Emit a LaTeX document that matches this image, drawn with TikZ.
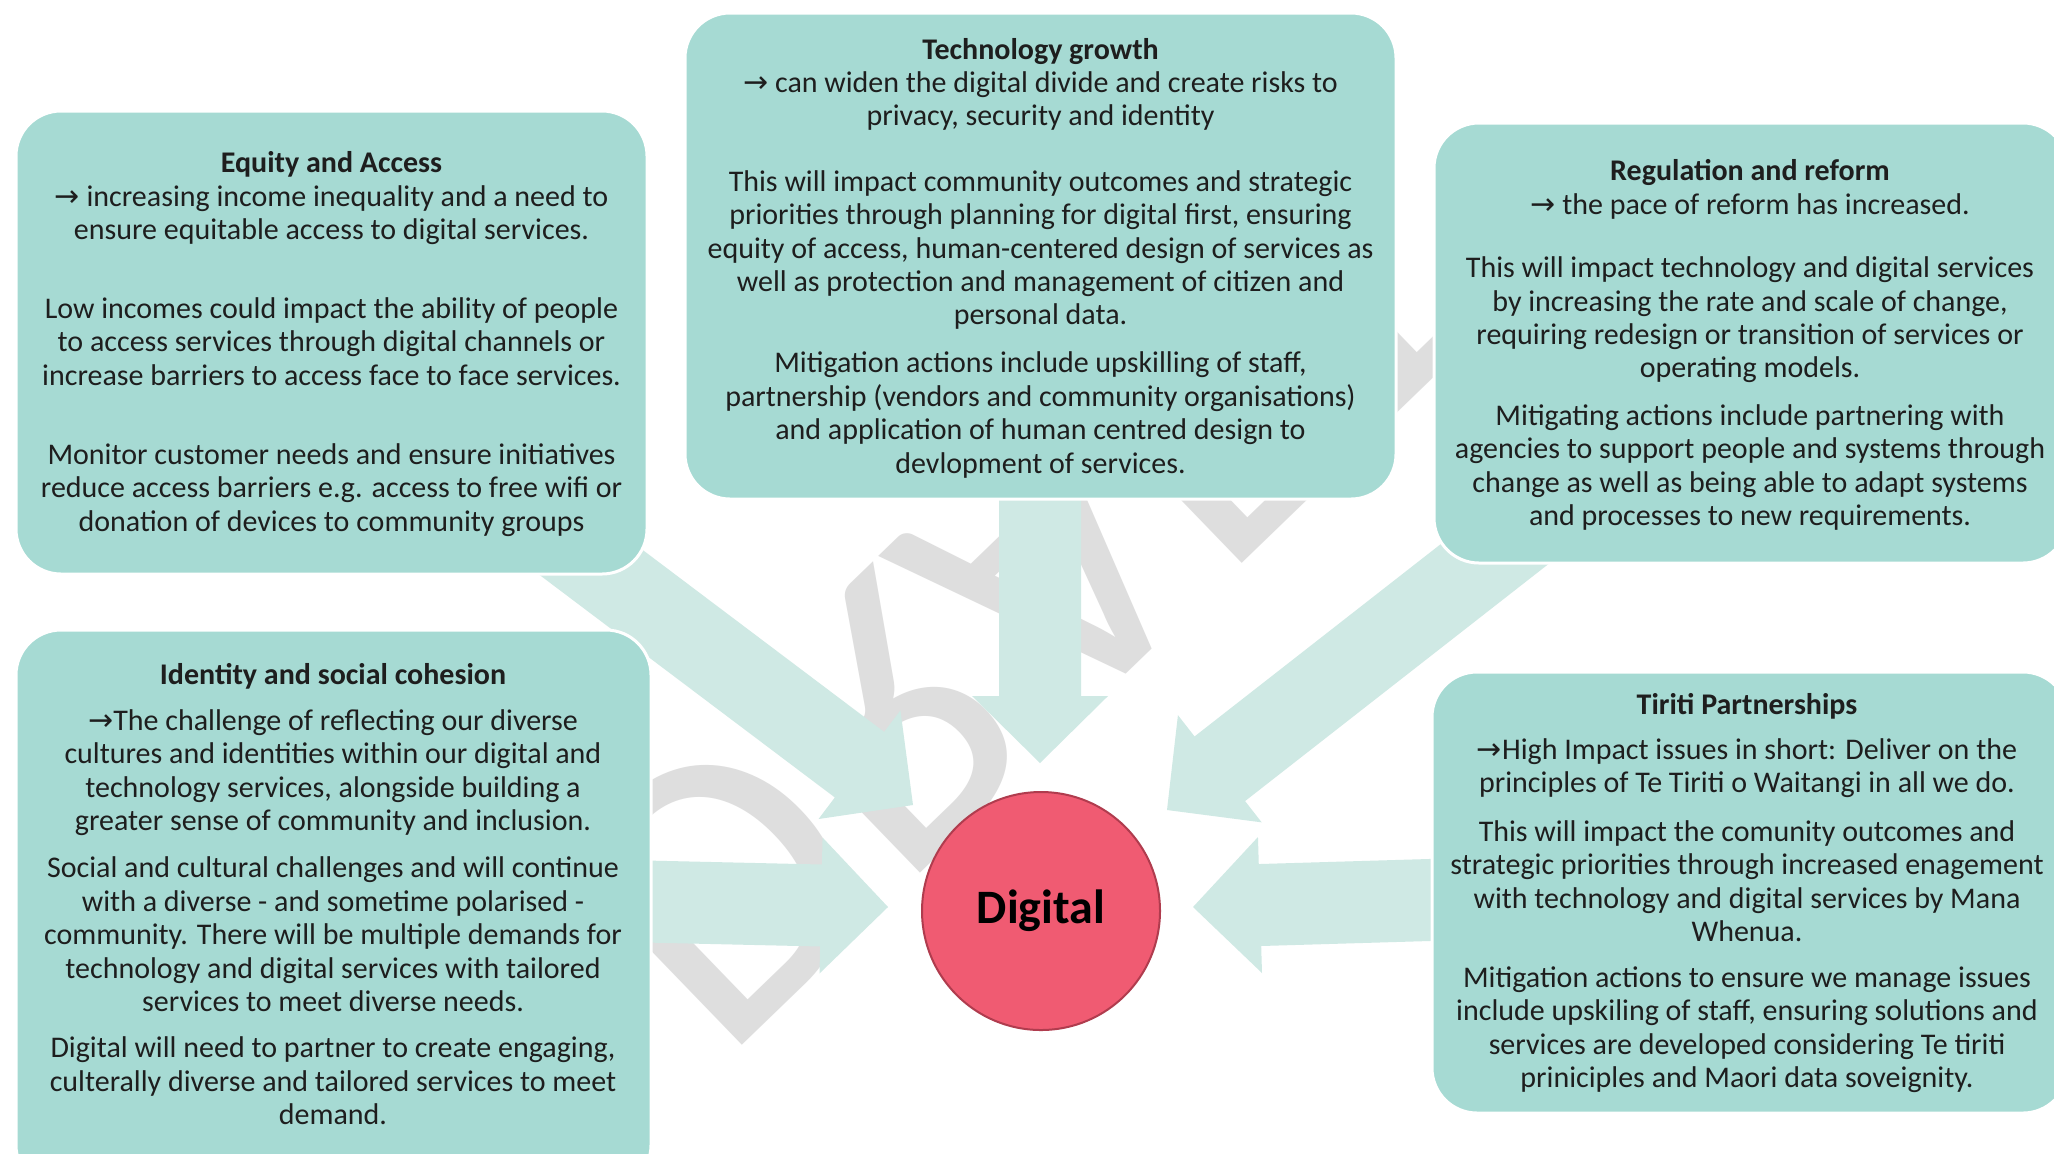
\documentclass[tikz,border=0pt]{standalone}
\usepackage{fontspec}
\setmainfont{Carlito}
\newfontfamily\wmfamily{Carlito}
\newfontfamily\symfamily{DejaVu Sans}
\definecolor{boxfill}{RGB}{166,218,211}
\definecolor{arrowfill}{RGB}{207,233,228}
\definecolor{circfill}{RGB}{240,91,114}
\definecolor{circline}{RGB}{176,60,78}
\definecolor{wmgray}{RGB}{222,222,222}
\definecolor{txt}{RGB}{30,30,30}
\newcommand\arr{{\symfamily\fontsize{15}{16.7}\selectfont\symbol{"2192}}}
\newcommand\blockarrow[3]{\fill[arrowfill, shift={(#1)}, rotate=#2] (0,0) -- (-67,68) -- (-67,41) -- (-#3,41) -- (-#3,-41) -- (-67,-41) -- (-67,-68) -- cycle;}
\tikzset{
  panel/.style={fill=boxfill, draw=white, line width=1.5pt, rounded corners=22.5pt, inner sep=0pt},
  paneltext/.style={align=center, text=txt, inner sep=0pt, font=\fontsize{15}{16.7}\selectfont}
}
\begin{document}
\begin{tikzpicture}[x=0.5pt,y=-0.5pt]
\useasboundingbox (0,0) rectangle (2054,1153);
\clip (0,0) rectangle (2054,1153);
\fill[white] (0,0) rectangle (2054,1153);
% watermark
\begin{scope}[shift={(544,880)}, rotate=44, yscale=-1]
\node[transform shape, anchor=base west, inner sep=0pt, text=wmgray, font=\wmfamily\fontsize{200}{200}\selectfont] (wm) at (0,0) {DRAFT};
\end{scope}
% arrow tips
\coordinate (tipT) at (1040,763);
\coordinate (tipUL) at (913,805);
\coordinate (tipUR) at (1167,810);
\coordinate (tipL) at (888,907);
\coordinate (tipR) at (1193,907);
\blockarrow{tipT}{-90}{290}
\blockarrow{tipUL}{-37}{480}
\blockarrow{tipUR}{-142}{480}
\blockarrow{tipL}{-1.3}{290}
\blockarrow{tipR}{-178.3}{290}
% panels
\node[panel, minimum width=315.5pt, minimum height=231.5pt] (eq) at (331.5,342.5) {};
\node[panel, minimum width=355.5pt, minimum height=243pt] (tech) at (1040.5,256) {};
\node[panel, minimum width=317pt, minimum height=220pt] (reg) at (1751,343) {};
\node[panel, minimum width=317.5pt, minimum height=280pt] (iden) at (333.5,910) {};
\node[panel, minimum width=318pt, minimum height=220.5pt] (tir) at (1750,892.5) {};
% circle
\node[circle, fill=circfill, draw=circline, line width=1pt, minimum size=119pt, inner sep=0pt, font=\fontsize{24}{28}\selectfont\bfseries] (dig) at (1041,911) {Digital};
% texts
\node[paneltext] (eqt) at (331.5,344) {\textbf{Equity and Access}\\
\arr\ increasing income inequality and a need to\\
ensure equitable access to digital services.\\[22.8pt]
Low incomes could impact the ability of people\\
to access services through digital channels or\\
increase barriers to access face to face services.\\[22.8pt]
Monitor customer needs and ensure initiatives\\
reduce access barriers e.g. access to free wifi or\\
donation of devices to community groups};
\node[paneltext] (techt) at (1040.5,258) {\textbf{Technology growth}\\
\arr\ can widen the digital divide and create risks to\\
privacy, security and identity\\[16pt]
This will impact community outcomes and strategic\\
priorities through planning for digital first, ensuring\\
equity of access, human-centered design of services as\\
well as protection and management of citizen and\\
personal data.\\[7.3pt]
Mitigation actions include upskilling of staff,\\
partnership (vendors and community organisations)\\
and application of human centred design to\\
devlopment of services.};
\node[paneltext] (regt) at (1750,345) {\textbf{Regulation and reform}\\
\arr\ the pace of reform has increased.\\[15pt]
This will impact technology and digital services\\
by increasing the rate and scale of change,\\
requiring redesign or transition of services or\\
operating models.\\[7pt]
Mitigating actions include partnering with\\
agencies to support people and systems through\\
change as well as being able to adapt systems\\
and processes to new requirements.};
\node[paneltext] (ident) at (333,894) {\textbf{Identity and social cohesion}\\[6.3pt]
\arr The challenge of reflecting our diverse\\
cultures and identities within our digital and\\
technology services, alongside building a\\
greater sense of community and inclusion.\\[7pt]
Social and cultural challenges and will continue\\
with a diverse - and sometime polarised -\\
community. There will be multiple demands for\\
technology and digital services with tailored\\
services to meet diverse needs.\\[6.5pt]
Digital will need to partner to create engaging,\\
culterally diverse and tailored services to meet\\
demand.};
\node[paneltext] (tirt) at (1747,893) {\textbf{Tiriti Partnerships}\\[6pt]
\arr High Impact issues in short: Deliver on the\\
principles of Te Tiriti o Waitangi in all we do.\\[7.5pt]
This will impact the comunity outcomes and\\
strategic priorities through increased enagement\\
with technology and digital services by Mana\\
Whenua.\\[6.3pt]
Mitigation actions to ensure we manage issues\\
include upskiling of staff, ensuring solutions and\\
services are developed considering Te tiriti\\
priniciples and Maori data soveignity.};
\end{tikzpicture}
\end{document}
